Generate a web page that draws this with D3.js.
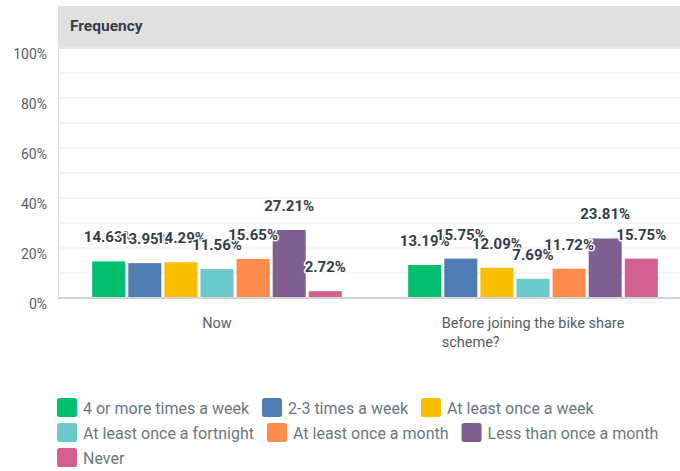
<!DOCTYPE html>
<html><head><meta charset="utf-8">
<script src="https://cdn.jsdelivr.net/npm/d3@7"></script>
<style>
body{margin:0;background:#fff;}
svg{display:block;font-family:Roboto, "Liberation Sans", sans-serif;}
</style></head>
<body><svg id="c" width="680" height="471"></svg>
<script>
const categories = ["Now", "Before joining the bike share scheme?"];
const seriesNames = ["4 or more times a week","2-3 times a week","At least once a week","At least once a fortnight","At least once a month","Less than once a month","Never"];
const seriesColors = ["#00bf6f","#507cb6","#f9be00","#6bc8cd","#ff8b4f","#7f5f90","#d25f90"];
const valuesNow = [14.63, 13.95, 14.29, 11.56, 15.65, 27.21, 2.72];
const valuesBefore = [13.19, 15.75, 12.09, 7.69, 11.72, 23.81, 15.75];
const yTicks = [0, 20, 40, 60, 80, 100];
const gridTicks = [10, 20, 30, 40, 50, 60, 70, 80, 90, 100];
const headerTitle = "Frequency";

(function(){
const values = [valuesNow, valuesBefore];
const svg = d3.select("#c");
const W = 680;
const pLeft = 58, pTop = 48, pBottom = 298;

const y = d3.scaleLinear().domain([0, 100]).range([pBottom, pTop]);
const x0 = d3.scaleBand().domain(categories).range([59, 691]).paddingInner(0.21).paddingOuter(0.105);
const x1 = d3.scaleBand().domain(seriesNames).range([0, x0.bandwidth()]).paddingInner(0.085);

// header
svg.append("rect").attr("x", pLeft).attr("y", 6).attr("width", W - pLeft).attr("height", 43).attr("fill", "#e0e0e0");
svg.append("text").attr("x", 70).attr("y", 31).attr("font-size", 15.5).attr("font-weight", 700)
  .attr("fill", "#333e48").text(headerTitle);

// grid
svg.append("g").selectAll("line").data(gridTicks).join("line")
  .attr("x1", pLeft).attr("x2", W).attr("y1", d => y(d)).attr("y2", d => y(d))
  .attr("stroke", "#ececec").attr("stroke-width", 1.2);
svg.append("line").attr("x1", pLeft + 0.5).attr("x2", pLeft + 0.5).attr("y1", pTop).attr("y2", pBottom)
  .attr("stroke", "#d9d9d9").attr("stroke-width", 1);

// y tick labels
svg.append("g").selectAll("text").data(yTicks).join("text")
  .attr("x", 47).attr("y", d => y(d) + 11).attr("text-anchor", "end")
  .attr("font-size", 14).attr("fill", "#555e66").text(d => d + "%");

// bars
const groups = svg.append("g").selectAll("g").data(categories).join("g")
  .attr("transform", d => `translate(${x0(d)},0)`);
groups.selectAll("rect").data((c, i) => values[i].map((v, j) => ({v, s: seriesNames[j], col: seriesColors[j]})))
  .join("rect")
  .attr("x", d => x1(d.s)).attr("width", x1.bandwidth())
  .attr("y", d => y(d.v)).attr("height", d => pBottom - y(d.v)).attr("fill", d => d.col);

// baseline
svg.append("line").attr("x1", pLeft).attr("x2", W).attr("y1", pBottom).attr("y2", pBottom)
  .attr("stroke", "#d3d3d3").attr("stroke-width", 2);

// value labels
groups.selectAll("text.val").data((c, i) => values[i].map((v, j) => ({v, s: seriesNames[j]})))
  .join("text").attr("class", "val")
  .attr("x", d => x1(d.s) + x1.bandwidth() / 2).attr("y", d => y(d.v) - 19)
  .attr("text-anchor", "middle").attr("font-size", 15).attr("font-weight", 700)
  .attr("fill", "#333e48").attr("stroke", "#fff").attr("stroke-width", 3)
  .attr("paint-order", "stroke").attr("stroke-linejoin", "round")
  .text(d => d.v.toFixed(2) + "%");

// category labels with wrapping
const wrapW = 220;
categories.forEach(c => {
  const cx = x0(c) + x0.bandwidth() / 2;
  const words = c.split(" ");
  const t = svg.append("text").attr("font-size", 14.5).attr("fill", "#555e66");
  const lines = [];
  let cur = [];
  const probe = t.append("tspan");
  words.forEach(w => {
    const test = cur.concat([w]).join(" ");
    probe.text(test);
    if (probe.node().getComputedTextLength() > wrapW && cur.length) {
      lines.push(cur.join(" ")); cur = [w];
    } else cur.push(w);
  });
  lines.push(cur.join(" "));
  probe.remove();
  const spans = lines.map((l, i) => t.append("tspan").attr("y", 328 + i * 19).text(l));
  const maxW = d3.max(spans, s => s.node().getComputedTextLength());
  spans.forEach(s => s.attr("x", cx - maxW / 2));
});

// legend (flow layout)
const lg = svg.append("g");
let lx = 57, ly = 398;
const maxX = 672;
seriesNames.forEach((name, i) => {
  const g = lg.append("g");
  const tx = g.append("text").attr("font-size", 16).attr("fill", "#6b7780").text(name);
  const tw = tx.node().getComputedTextLength();
  const itemW = 26 + tw;
  if (lx + itemW > maxX && lx > 57) { lx = 57; ly += 25; }
  g.append("rect").attr("x", lx).attr("y", ly).attr("width", 20).attr("height", 19)
    .attr("rx", 2.5).attr("fill", seriesColors[i]);
  tx.attr("x", lx + 26).attr("y", ly + 15.5);
  lx += itemW + 13;
});
})();
</script></body></html>
